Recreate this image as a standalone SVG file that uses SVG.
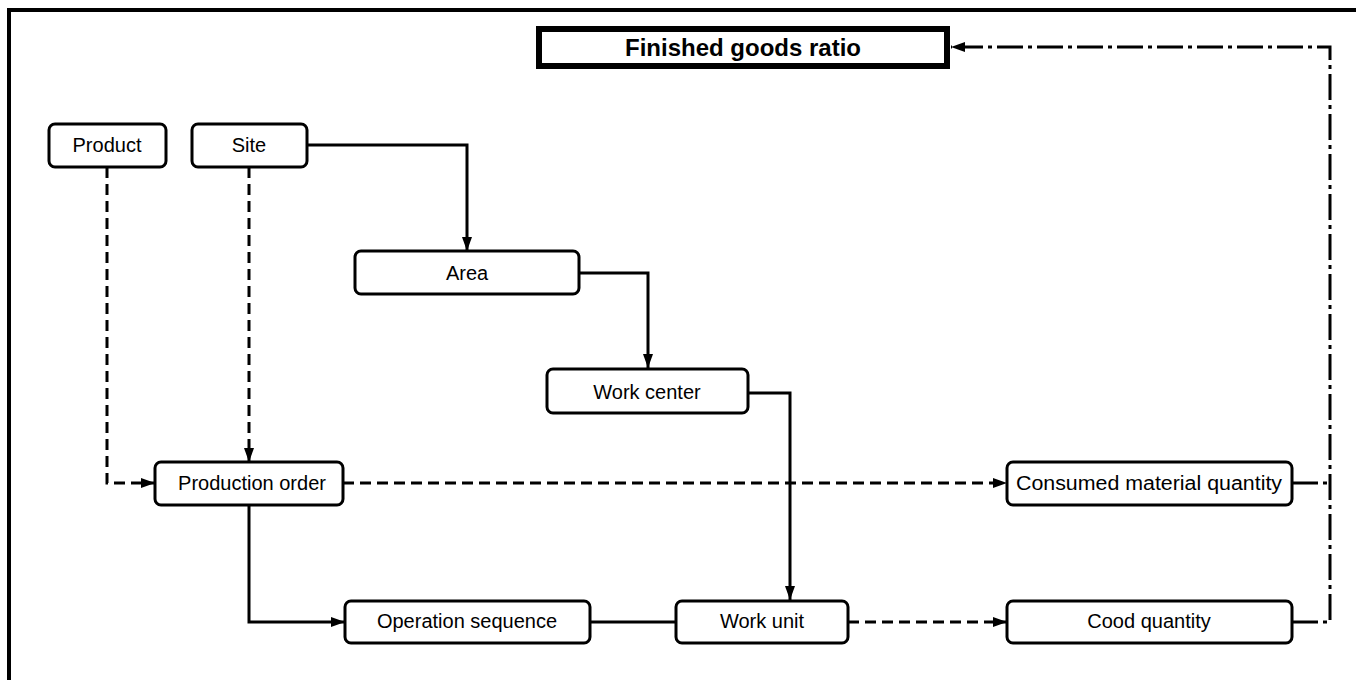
<svg xmlns="http://www.w3.org/2000/svg" width="1356" height="680" viewBox="0 0 1356 680">
<defs>
<marker id="arr" markerWidth="14" markerHeight="10" refX="14" refY="5" orient="auto" markerUnits="userSpaceOnUse">
<path d="M0,0 L14,5 L0,10 Z" fill="#000"/>
</marker>
<style>
.box{fill:#fff;stroke:#000;stroke-width:3}
.lbl{font-family:"Liberation Sans",Arial,sans-serif;font-size:20px;fill:#000;text-anchor:middle;dominant-baseline:central}
.solid{fill:none;stroke:#000;stroke-width:3}
.dash{fill:none;stroke:#000;stroke-width:3;stroke-dasharray:11,6}
.dd{fill:none;stroke:#000;stroke-width:3;stroke-dasharray:26,5,4,5}
</style>
</defs>
<rect width="1356" height="680" fill="#fff"/>
<g id="frame">
<path d="M9,680 V10 H1356" fill="none" stroke="#000" stroke-width="4"/>
</g>
<g id="connectors">
<path class="solid" d="M307,145 H467 V251" marker-end="url(#arr)"/>
<path class="solid" d="M579,273 H648 V368" marker-end="url(#arr)"/>
<path class="solid" d="M748,393 H790 V600" marker-end="url(#arr)"/>
<path class="dash" d="M107,167 V483 H155" marker-end="url(#arr)"/>
<path class="dash" d="M249,167 V462" marker-end="url(#arr)"/>
<path class="dash" d="M343,483 H1007" marker-end="url(#arr)"/>
<path class="solid" d="M249,505 V622 H345" marker-end="url(#arr)"/>
<path class="solid" d="M590,622 H676"/>
<path class="dash" d="M848,622 H1007" marker-end="url(#arr)"/>
<path class="dd" d="M1292,483 H1330"/>
<path class="dd" d="M1292,622 H1330 V47 H951" marker-end="url(#arr)"/>
</g>
<g id="finished-goods-ratio">
<rect x="539" y="29" width="408" height="37" fill="#fff" stroke="#000" stroke-width="6"/>
<text class="lbl" x="743" y="47" font-weight="bold" style="font-size:24px">Finished goods ratio</text>
</g>
<g id="product">
<rect class="box" x="49" y="124" width="117" height="43" rx="6"/>
<text class="lbl" x="107" y="145">Product</text>
</g>
<g id="site">
<rect class="box" x="192" y="124" width="115" height="43" rx="6"/>
<text class="lbl" x="249" y="145">Site</text>
</g>
<g id="area">
<rect class="box" x="355" y="251" width="224" height="43" rx="6"/>
<text class="lbl" x="467" y="273">Area</text>
</g>
<g id="work-center">
<rect class="box" x="547" y="369" width="201" height="44" rx="6"/>
<text class="lbl" x="647" y="392">Work center</text>
</g>
<g id="production-order">
<rect class="box" x="155" y="462" width="188" height="43" rx="6"/>
<text class="lbl" x="252" y="483">Production order</text>
</g>
<g id="consumed-material-quantity">
<rect class="box" x="1007" y="462" width="285" height="43" rx="6"/>
<text class="lbl" x="1149" y="483" textLength="266" lengthAdjust="spacingAndGlyphs">Consumed material quantity</text>
</g>
<g id="operation-sequence">
<rect class="box" x="345" y="601" width="245" height="42" rx="6"/>
<text class="lbl" x="467" y="621">Operation sequence</text>
</g>
<g id="work-unit">
<rect class="box" x="676" y="601" width="172" height="42" rx="6"/>
<text class="lbl" x="762" y="621">Work unit</text>
</g>
<g id="cood-quantity">
<rect class="box" x="1007" y="601" width="285" height="42" rx="6"/>
<text class="lbl" x="1149" y="621">Cood quantity</text>
</g>
</svg>
